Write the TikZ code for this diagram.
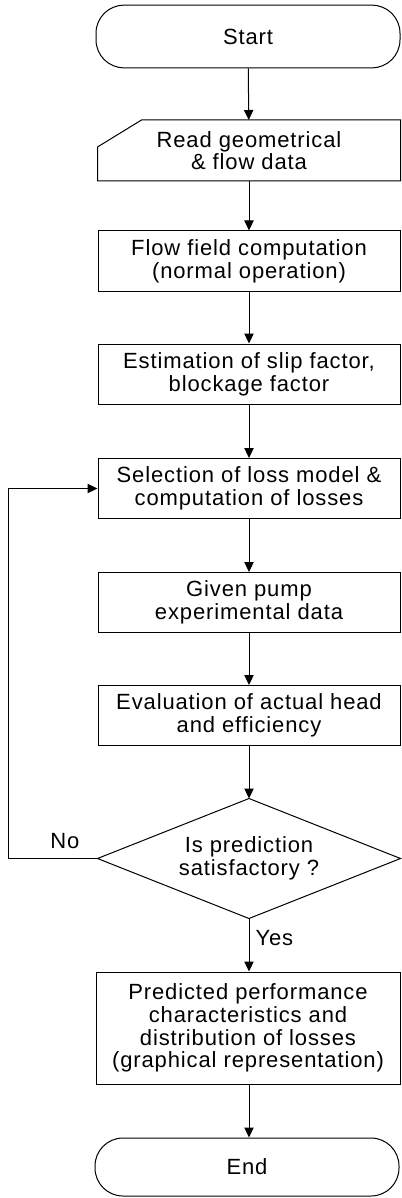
\documentclass[tikz,border=0pt]{standalone}
\usepackage{fontspec}
\setmainfont{Liberation Sans}[LetterSpace=4]
\usetikzlibrary{arrows.meta}
\begin{document}
\begin{tikzpicture}[x=0.75pt,y=-0.75pt,
  every node/.style={font=\fontsize{16.5}{17}\selectfont, align=center, inner sep=0pt},
  box/.style={draw, minimum width=226.5pt, minimum height=45pt},
  term/.style={box, rounded corners=21pt},
  arr/.style={-{Triangle[length=7.5pt,width=7pt]}},
  line width=0.75pt]
\useasboundingbox (0,0) rectangle (401,1198);
\node[term, minimum height=47pt, minimum width=228pt] (start) at (248,36.5) {Start};
\node[box, draw=none] (read) at (249,150.5) {Read geometrical\\\& flow data};
\draw ([yshift=-27*0.75pt]read.north west) -- ([xshift=44*0.75pt]read.north west) -- (read.north east) -- (read.south east) -- (read.south west) -- cycle;
\node[box] (flow) at (249,261) {Flow field computation\\(normal operation)};
\node[box] (est) at (249,374) {Estimation of slip factor,\\blockage factor};
\node[box] (sel) at (249,488.5) {Selection of loss model \&\\computation of losses};
\node[box] (given) at (249,602.5) {Given pump\\experimental data};
\node[box] (eval) at (249,715.5) {Evaluation of actual head\\and efficiency};
\node[minimum width=226.5pt, minimum height=89.25pt] (dec) at (249,858.5) {Is prediction\\satisfactory ?};
\draw (dec.north) -- (dec.east) -- (dec.south) -- (dec.west) -- cycle;
\node[box, minimum height=84pt, minimum width=228pt] (pred) at (248,1028) {Predicted performance\\characteristics and\\distribution of losses\\(graphical representation)};
\node[term, minimum height=43.5pt, minimum width=228pt] (end) at (247,1167) {End};
\draw[arr] (start) -- (read);
\draw[arr] (read) -- (flow);
\draw[arr] (flow) -- (est);
\draw[arr] (est) -- (sel);
\draw[arr] (sel) -- (given);
\draw[arr] (given) -- (eval);
\draw[arr] (eval) -- (dec.north);
\draw[arr] (dec.south) -- (dec.south |- pred.north);
\draw[arr] (pred.south -| dec.south) -- (dec.south |- end.north);
\draw[arr] (dec.west) -- ++(-89,0) |- (sel.west);
\node (no) at (65,841) {No};
\node[anchor=west] (yes) at (255,938) {Yes};
\end{tikzpicture}
\end{document}
